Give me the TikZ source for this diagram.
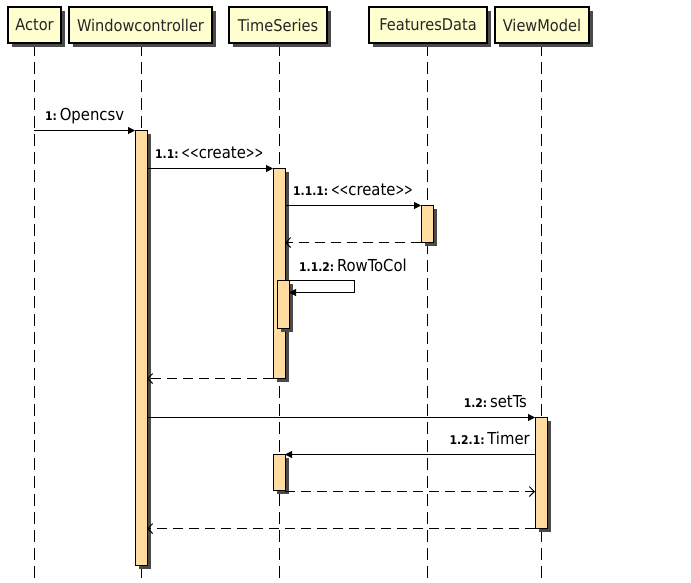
\documentclass[tikz,border=0pt]{standalone}
\usepackage{fontspec}
\usepackage{graphicx}
\setmainfont{DejaVu Sans Condensed}
\usetikzlibrary{arrows.meta}
\definecolor{headfill}{HTML}{FEFECE}
\definecolor{actfill}{HTML}{FFDDA0}
\definecolor{shadowc}{HTML}{4A4A4A}
\tikzset{
  head/.style={draw=black, line width=1.2pt, fill=headfill, inner sep=0pt, minimum height=36pt, font=\fontsize{16.2}{17}\selectfont, text=black!85},
  headshadow/.style={fill=shadowc},
  lifeline/.style={draw=black, line width=1pt, dash pattern=on 12pt off 6pt},
  actbar/.style={draw=black, line width=0.9pt, fill=actfill},
  call/.style={draw=black, line width=1pt, -{Triangle[length=7pt,width=7pt]}},
  ret/.style={draw=black, line width=1pt, dash pattern=on 10pt off 6pt, -{Straight Barb[length=5pt,width=10pt,line width=1pt]}},
  msg/.style={font=\fontsize{16.5}{17}\selectfont, inner sep=0pt, text=black},
}
\newcommand{\num}[1]{{\fontsize{12}{13}\selectfont\bfseries #1}}
\newcommand{\lt}{\scalebox{0.7}[1]{<}}
\newcommand{\gt}{\scalebox{0.7}[1]{>}}
\newcommand{\crt}{\lt\lt create\gt\gt}
\begin{document}
\begin{tikzpicture}[x=1pt,y=-1pt]
\useasboundingbox (0,0) rectangle (691,582);
% lifelines
\foreach \x in {34,141,279,427,541}{
  \draw[lifeline] (\x,44) -- (\x,582);
}
% header boxes with shadows
\foreach \l/\r in {8/61, 69/212, 229/327, 369/487, 495/589}{
  \fill[headshadow] (\l+4,11) rectangle (\r+4,47);
}
\node[head, minimum width=53pt] (hA) at (34.5,25) {Actor};
\node[head, minimum width=143pt] (hW) at (140.5,25) {Windowcontroller};
\node[head, minimum width=98pt] (hT) at (278,25) {TimeSeries};
\node[head, minimum width=118pt] (hF) at (428,25) {FeaturesData};
\node[head, minimum width=94pt] (hV) at (542,25) {ViewModel};

% activation bars (shadow then bar)
\fill[shadowc] (139,134) rectangle (151,569);
\draw[actbar] (135,130) rectangle (147,565);

\fill[shadowc] (277,172) rectangle (289,382);
\draw[actbar] (273,168) rectangle (285,378);

\fill[shadowc] (425,209) rectangle (437,246);
\draw[actbar] (421,205) rectangle (433,242);

\fill[shadowc] (281,284) rectangle (293,332);
\draw[actbar] (277,280) rectangle (289,328);

\fill[shadowc] (539,421) rectangle (551,532);
\draw[actbar] (535,417) rectangle (547,528);

\fill[shadowc] (277,458) rectangle (289,494);
\draw[actbar] (273,454) rectangle (285,490);

% named anchor coordinates for messages
\coordinate (m1s) at (34,130.5);   \coordinate (m1e) at (135,130.5);
\coordinate (m2s) at (147,168.5);  \coordinate (m2e) at (273,168.5);
\coordinate (m3s) at (285,205.5);  \coordinate (m3e) at (421,205.5);
\coordinate (r3s) at (421,242.5);  \coordinate (r3e) at (285,242.5);
\coordinate (m4s) at (285,280.5);  \coordinate (m4a) at (354,280.5);
\coordinate (m4b) at (354,292.5);  \coordinate (m4e) at (289,292.5);
\coordinate (r2s) at (273,378.5);  \coordinate (r2e) at (147,378.5);
\coordinate (m5s) at (147,417.5);  \coordinate (m5e) at (535,417.5);
\coordinate (m6s) at (535,454.5);  \coordinate (m6e) at (285,454.5);
\coordinate (r6s) at (285,491.5);  \coordinate (r6e) at (535,491.5);
\coordinate (r5s) at (535,528.5);  \coordinate (r5e) at (147,528.5);

\draw[call] (m1s) -- (m1e);
\draw[call] (m2s) -- (m2e);
\draw[call] (m3s) -- (m3e);
\draw[ret] (r3s) -- (r3e);
\draw[call] (m4s) -- (m4a) -- (m4b) -- (m4e);
\draw[ret] (r2s) -- (r2e);
\draw[call] (m5s) -- (m5e);
\draw[call] (m6s) -- (m6e);
\draw[ret] (r6s) -- (r6e);
\draw[ret] (r5s) -- (r5e);

% labels
\node[msg, anchor=base west] (t1) at (45,120) {\num{1:}\,Opencsv};
\node[msg, anchor=base west] (t2) at (155,158) {\num{1.1:}\,\crt};
\node[msg, anchor=base west] (t3) at (293,195) {\num{1.1.1:}\,\crt};
\node[msg, anchor=base west] (t4) at (299,271) {\num{1.1.2:}\,RowToCol};
\node[msg, anchor=base east] (t5) at (527,407) {\num{1.2:}\,setTs};
\node[msg, anchor=base east] (t6) at (530,444) {\num{1.2.1:}\,Timer};
\end{tikzpicture}
\end{document}
